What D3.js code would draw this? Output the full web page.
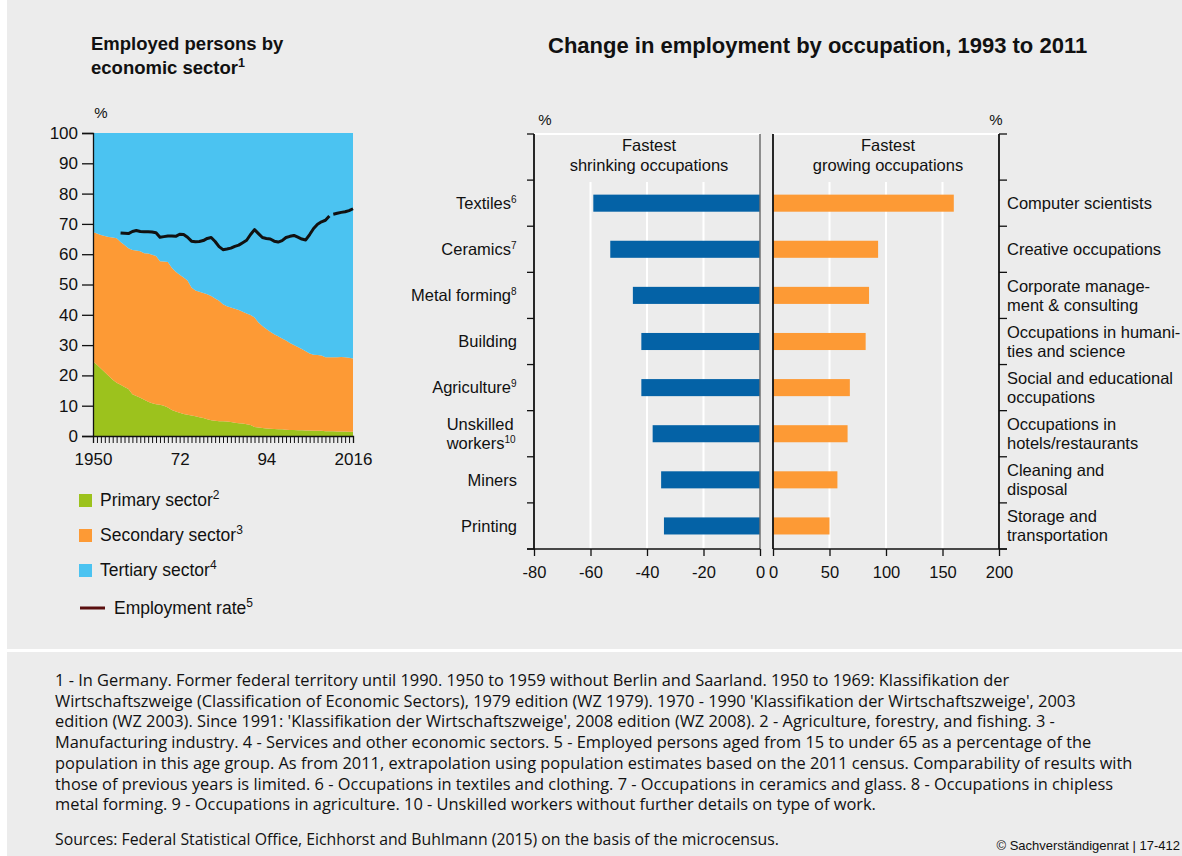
<!DOCTYPE html>
<html>
<head>
<meta charset="utf-8">
<script src="https://cdn.jsdelivr.net/npm/d3@7"></script>
<style>
body { margin: 0; background: #fff; }
svg { display: block; font-family: "Liberation Sans", Arial, sans-serif; }
</style>
</head>
<body>
<script>
// employed persons by sector, % share, 1950-2016
var years = d3.range(1950, 2017);
var primary = [24.6, 23.5, 22.3, 21.0, 19.8, 18.6, 17.6, 16.9, 16.2, 15.5,
	13.8, 13.2, 12.6, 12.0, 11.3, 10.8, 10.5, 10.3, 10.0, 9.4,
	8.6, 8.1, 7.7, 7.3, 7.0, 6.8, 6.5, 6.2, 5.9, 5.5,
	5.2, 5.0, 4.9, 4.9, 4.8, 4.6, 4.4, 4.2, 4.1, 3.9,
	3.6, 3.0, 2.8, 2.6, 2.5, 2.4, 2.3, 2.2, 2.2, 2.1,
	2.0, 2.0, 1.9, 1.9, 1.8, 1.8, 1.7, 1.7, 1.7, 1.6,
	1.6, 1.6, 1.5, 1.5, 1.5, 1.4, 1.4];
var secondary = [42.7, 43.3, 44.0, 45.0, 45.9, 46.9, 47.7, 47.1, 46.8, 46.5,
	47.6, 48.0, 48.4, 48.3, 48.9, 49.0, 48.9, 47.4, 47.6, 48.0,
	46.9, 46.1, 45.5, 45.0, 44.3, 42.2, 41.5, 41.4, 41.3, 41.3,
	41.0, 40.4, 39.7, 38.6, 38.0, 37.8, 37.6, 37.4, 36.9, 36.5,
	36.3, 36.1, 34.7, 33.7, 32.8, 32.0, 31.3, 30.7, 30.0, 29.4,
	28.7, 28.0, 27.5, 26.8, 26.2, 25.4, 25.1, 25.0, 24.9, 24.4,
	24.4, 24.4, 24.5, 24.6, 24.5, 24.4, 24.2];
var tertiary = [32.7, 33.2, 33.7, 34.0, 34.3, 34.5, 34.7, 36.0, 37.0, 38.0,
	38.6, 38.8, 39.0, 39.7, 39.8, 40.2, 40.6, 42.3, 42.4, 42.6,
	44.5, 45.8, 46.8, 47.7, 48.7, 51.0, 52.0, 52.4, 52.8, 53.2,
	53.8, 54.6, 55.4, 56.5, 57.2, 57.6, 58.0, 58.4, 59.0, 59.6,
	60.1, 60.9, 62.5, 63.7, 64.7, 65.6, 66.4, 67.1, 67.8, 68.5,
	69.3, 70.0, 70.6, 71.3, 72.0, 72.8, 73.2, 73.3, 73.4, 74.0,
	74.0, 74.0, 74.0, 73.9, 74.0, 74.2, 74.4];

// employment rate, 1957-2016; new extrapolation from 2011
var rateYears = d3.range(1957, 2017);
var rate = [67.0, 66.9, 66.8, 67.5, 67.8, 67.5, 67.4, 67.4, 67.3, 67.1,
	65.6, 65.8, 66.0, 66.0, 65.9, 66.6, 66.5, 65.6, 64.3, 64.1,
	64.2, 64.5, 65.2, 65.5, 64.2, 62.5, 61.5, 61.7, 62.0, 62.6,
	63.0, 63.8, 64.6, 66.5, 68.1, 66.8, 65.5, 65.2, 65.0, 64.3,
	64.0, 64.5, 65.5, 65.9, 66.2, 65.6, 65.0, 64.7, 66.5, 68.5,
	69.9, 70.7, 71.2, 72.6, 73.2, 73.5, 73.8, 74.0, 74.4, 75.0];
var rateBreak = 2011;
var yearTickLabels = { 1950: "1950", 1972: "72", 1994: "94", 2016: "2016" };

// change in employment 1993-2011, %
var shrinkLabels = [["Textiles"], ["Ceramics"], ["Metal forming"], ["Building"], ["Agriculture"], ["Unskilled", "workers"], ["Miners"], ["Printing"]];
var shrinkNotes = ["6", "7", "8", "", "9", "10", "", ""];
var shrinkValues = [-59, -53, -45, -42, -42, -38, -35, -34];
var growLabels = [["Computer scientists"], ["Creative occupations"], ["Corporate manage-", "ment & consulting"],
	["Occupations in humani-", "ties and science"], ["Social and educational", "occupations"],
	["Occupations in", "hotels/restaurants"], ["Cleaning and", "disposal"], ["Storage and", "transportation"]];
var growValues = [160, 93, 85, 82, 68, 66, 57, 50];
var shrinkTicks = [-80, -60, -40, -20, 0];
var growTicks = [0, 50, 100, 150, 200];

var footnotes = [
	"1 - In Germany. Former federal territory until 1990. 1950 to 1959 without Berlin and Saarland. 1950 to 1969: Klassifikation der",
	"Wirtschaftszweige (Classification of Economic Sectors), 1979 edition (WZ 1979). 1970 - 1990 'Klassifikation der Wirtschaftszweige', 2003",
	"edition (WZ 2003). Since 1991: 'Klassifikation der Wirtschaftszweige', 2008 edition (WZ 2008). 2 - Agriculture, forestry, and fishing. 3 -",
	"Manufacturing industry. 4 - Services and other economic sectors. 5 - Employed persons aged from 15 to under 65 as a percentage of the",
	"population in this age group. As from 2011, extrapolation using population estimates based on the 2011 census. Comparability of results with",
	"those of previous years is limited. 6 - Occupations in textiles and clothing. 7 - Occupations in ceramics and glass. 8 - Occupations in chipless",
	"metal forming. 9 - Occupations in agriculture. 10 - Unskilled workers without further details on type of work."
];

var colors = { primary: "#9cc21d", secondary: "#fd9a35", tertiary: "#4bc3f1", rate: "#111", legendRate: "#5a0f0f", shrink: "#0462a6", grow: "#fd9a35" };

var W = 1182, H = 856;
var svg = d3.select("body").append("svg").attr("width", W).attr("height", H);

// panels
svg.append("rect").attr("x", 7).attr("y", 0).attr("width", W - 7).attr("height", 649).attr("fill", "#ececec");
svg.append("rect").attr("x", 7).attr("y", 652).attr("width", W - 7).attr("height", H - 652).attr("fill", "#ececec");

function supText(sel, main, note, noteSize, dy) {
	sel.append("tspan").text(main);
	if (note) sel.append("tspan").attr("font-size", noteSize).attr("dy", dy).text(note);
}

// ---------- left chart ----------
var x = d3.scaleLinear().domain([1950, 2016]).range([93, 353]);
var y = d3.scaleLinear().domain([0, 100]).range([436, 133]);

var rows = years.map(function (yr, i) {
	return { year: yr, primary: primary[i], secondary: secondary[i], tertiary: tertiary[i] };
});
var stack = d3.stack().keys(["primary", "secondary", "tertiary"]);
var area = d3.area()
	.x(function (d) { return x(d.data.year); })
	.y0(function (d) { return y(d[0]); })
	.y1(function (d) { return y(Math.min(100, d[1])); });

svg.append("g").selectAll("path")
	.data(stack(rows))
	.enter().append("path")
	.attr("fill", function (d) { return colors[d.key]; })
	.attr("d", area);

var rateRows = rateYears.map(function (yr, i) { return { year: yr, v: rate[i] }; });
var rateLine = d3.line().x(function (d) { return x(d.year); }).y(function (d) { return y(d.v); });
[rateRows.filter(function (d) { return d.year < rateBreak; }),
 rateRows.filter(function (d) { return d.year >= rateBreak; })].forEach(function (seg) {
	svg.append("path").datum(seg)
		.attr("fill", "none").attr("stroke", colors.rate).attr("stroke-width", 3)
		.attr("stroke-linejoin", "round").attr("d", rateLine);
});

var yAxis = svg.append("g").attr("transform", "translate(93,0)")
	.call(d3.axisLeft(y).tickValues(d3.range(0, 101, 10)).tickSize(11).tickPadding(4));
yAxis.selectAll("text").attr("font-size", 17).attr("fill", "#111").attr("font-family", null);
yAxis.selectAll("line,path").attr("stroke", "#111").attr("stroke-width", 1.3);

var xAxis = svg.append("g").attr("transform", "translate(0,436)")
	.call(d3.axisBottom(x).tickValues(years).tickSize(7).tickPadding(10)
		.tickFormat(function (d) { return yearTickLabels[d] || ""; }));
xAxis.selectAll("text").attr("font-size", 17).attr("fill", "#111").attr("font-family", null);
xAxis.selectAll("line").attr("stroke", "#111").attr("stroke-width", 1);
xAxis.select("path").attr("stroke", "#111").attr("stroke-width", 1.3);

svg.append("text").attr("x", 101).attr("y", 118).attr("text-anchor", "middle")
	.attr("font-size", 15).attr("fill", "#111").text("%");

svg.append("text").attr("x", 91).attr("y", 50).attr("font-size", 18.5).attr("font-weight", "bold")
	.attr("fill", "#111").text("Employed persons by");
supText(svg.append("text").attr("x", 91).attr("y", 74).attr("font-size", 18.5).attr("font-weight", "bold").attr("fill", "#111"),
	"economic sector", "1", 12.5, -7);

// legend
var legendItems = [
	{ name: "Primary sector", note: "2", color: colors.primary, type: "box" },
	{ name: "Secondary sector", note: "3", color: colors.secondary, type: "box" },
	{ name: "Tertiary sector", note: "4", color: colors.tertiary, type: "box" },
	{ name: "Employment rate", note: "5", color: colors.legendRate, type: "line" }
];
var leg = svg.append("g").selectAll("g").data(legendItems).enter().append("g")
	.attr("transform", function (d, i) { return "translate(79," + (494 + i * 35) + ")"; });
leg.filter(function (d) { return d.type === "box"; }).append("rect")
	.attr("width", 13).attr("height", 13).attr("fill", function (d) { return d.color; });
leg.filter(function (d) { return d.type === "line"; }).append("line")
	.attr("x1", 1).attr("x2", 26).attr("y1", 9).attr("y2", 9)
	.attr("stroke", function (d) { return d.color; }).attr("stroke-width", 3);
leg.each(function (d) {
	var t = d3.select(this).append("text").attr("x", d.type === "line" ? 35 : 21).attr("y", d.type === "line" ? 15 : 12)
		.attr("font-size", 17.5).attr("fill", "#111");
	supText(t, d.name, d.note, 12, -7);
});

// ---------- right chart ----------
svg.append("text").attr("x", 548).attr("y", 53).attr("font-size", 22).attr("font-weight", "bold")
	.attr("fill", "#111").text("Change in employment by occupation, 1993 to 2011");

var cats = shrinkLabels.map(function (d, i) { return "c" + i; });
var yTop = 134, yBottom = 549;
var ySlot = d3.scaleBand().domain(["head"].concat(cats)).range([yTop, yBottom]);
var yBar = d3.scaleBand().domain(cats).range([yTop + ySlot.step(), yBottom]).paddingInner(0.63).paddingOuter(0.315);
var xs = d3.scaleLinear().domain([-80, 0]).range([534, 760]);
var xg = d3.scaleLinear().domain([0, 200]).range([773, 999]);
var gridTop = ySlot(cats[0]) + 2;

// top white border + grid lines
[[xs(-80), xs(0)], [xg(0), xg(200)]].forEach(function (r) {
	svg.append("line").attr("x1", r[0]).attr("x2", r[1]).attr("y1", yTop).attr("y2", yTop)
		.attr("stroke", "#fff").attr("stroke-width", 2);
});
svg.append("g").selectAll("line").data([-60, -40, -20]).enter().append("line")
	.attr("x1", xs).attr("x2", xs).attr("y1", gridTop).attr("y2", yBottom)
	.attr("stroke", "#fff").attr("stroke-width", 2);
svg.append("g").selectAll("line").data([50, 100, 150]).enter().append("line")
	.attr("x1", xg).attr("x2", xg).attr("y1", gridTop).attr("y2", yBottom)
	.attr("stroke", "#fff").attr("stroke-width", 2);

// bars
svg.append("g").selectAll("rect").data(shrinkValues).enter().append("rect")
	.attr("x", function (d) { return xs(d); })
	.attr("width", function (d) { return xs(0) - xs(d); })
	.attr("y", function (d, i) { return yBar(cats[i]); })
	.attr("height", yBar.bandwidth())
	.attr("fill", colors.shrink);
svg.append("g").selectAll("rect").data(growValues).enter().append("rect")
	.attr("x", xg(0))
	.attr("width", function (d) { return xg(d) - xg(0); })
	.attr("y", function (d, i) { return yBar(cats[i]); })
	.attr("height", yBar.bandwidth())
	.attr("fill", colors.grow);

// zero line of shrinking panel
svg.append("line").attr("x1", xs(0)).attr("x2", xs(0)).attr("y1", yTop).attr("y2", yBottom)
	.attr("stroke", "#6e6e6e").attr("stroke-width", 1.5);

// bottom axes
function styleAxis(g) {
	g.selectAll("text").attr("font-size", 16.5).attr("fill", "#111").attr("font-family", null);
	g.selectAll("line,path").attr("stroke", "#111").attr("stroke-width", 1.3);
}
var sx = svg.append("g").attr("transform", "translate(0," + yBottom + ")")
	.call(d3.axisBottom(xs).tickValues(shrinkTicks).tickSize(7).tickSizeOuter(0).tickPadding(10)
		.tickFormat(function (d) { return String(d); }));
styleAxis(sx);
sx.select("path").attr("d", "M527,0H" + xs(0));
var gx = svg.append("g").attr("transform", "translate(0," + yBottom + ")")
	.call(d3.axisBottom(xg).tickValues(growTicks).tickSize(7).tickSizeOuter(0).tickPadding(10)
		.tickFormat(function (d) { return String(d); }));
styleAxis(gx);
gx.select("path").attr("d", "M" + xg(0) + ",0H1007");

// vertical axes with slot ticks
var slotEdges = ySlot.domain().map(function (d) { return ySlot(d); }).concat([yBottom]);
var axisGroup = svg.append("g").attr("stroke", "#111");
[xs(-80), xg(0), xg(200)].forEach(function (ax) {
	axisGroup.append("line").attr("x1", ax).attr("x2", ax).attr("y1", yTop).attr("y2", yBottom)
		.attr("stroke-width", 1.8);
});
axisGroup.selectAll(".tl").data(slotEdges).enter().append("line")
	.attr("x1", 527).attr("x2", xs(-80)).attr("y1", function (d) { return d; }).attr("y2", function (d) { return d; })
	.attr("stroke-width", 1.3);
axisGroup.selectAll(".tr").data(slotEdges).enter().append("line")
	.attr("x1", xg(200)).attr("x2", 1007).attr("y1", function (d) { return d; }).attr("y2", function (d) { return d; })
	.attr("stroke-width", 1.3);

// % labels
svg.append("text").attr("x", 545).attr("y", 125).attr("text-anchor", "middle").attr("font-size", 15).attr("fill", "#111").text("%");
svg.append("text").attr("x", 996).attr("y", 125).attr("text-anchor", "middle").attr("font-size", 15).attr("fill", "#111").text("%");

// panel headers
[[649, "shrinking occupations"], [888, "growing occupations"]].forEach(function (h) {
	var t = svg.append("text").attr("text-anchor", "middle").attr("font-size", 16.5).attr("fill", "#111");
	t.append("tspan").attr("x", h[0]).attr("y", 151).text("Fastest");
	t.append("tspan").attr("x", h[0]).attr("y", 170.5).text(h[1]);
});

// category labels
var fs = 16.5, lh = 19;
shrinkLabels.forEach(function (lines, i) {
	var cy = ySlot(cats[i]) + ySlot.bandwidth() / 2;
	var g = svg.append("g");
	var t = g.append("text").attr("font-size", fs).attr("fill", "#111");
	lines.forEach(function (ln, j) {
		var b = cy - (lines.length - 1) * lh / 2 + 5.8 + j * lh;
		t.append("tspan").attr("x", 0).attr("y", b).text(ln);
		if (j === lines.length - 1 && shrinkNotes[i]) {
			t.append("tspan").attr("font-size", 10).attr("dy", -6).text(shrinkNotes[i]);
		}
	});
	var w = g.node().getBBox().width;
	g.attr("transform", "translate(" + (517 - w) + ",0)");
});
growLabels.forEach(function (lines, i) {
	var cy = ySlot(cats[i]) + ySlot.bandwidth() / 2;
	var t = svg.append("text").attr("font-size", fs).attr("fill", "#111");
	lines.forEach(function (ln, j) {
		t.append("tspan").attr("x", 1007).attr("y", cy - (lines.length - 1) * lh / 2 + 5.8 + j * lh).text(ln);
	});
});

// ---------- footer ----------
var ft = svg.append("text").attr("font-family", "'Open Sans', sans-serif").attr("font-size", 16.4).attr("fill", "#111");
footnotes.forEach(function (ln, i) {
	ft.append("tspan").attr("x", 55).attr("y", 686 + i * 20.7).text(ln);
});
svg.append("text").attr("x", 55).attr("y", 845).attr("font-family", "'Open Sans', sans-serif").attr("font-size", 15.8).attr("fill", "#111")
	.text("Sources: Federal Statistical Office, Eichhorst and Buhlmann (2015) on the basis of the microcensus.");
svg.append("text").attr("x", 1180).attr("y", 850).attr("text-anchor", "end").attr("font-size", 13).attr("fill", "#111")
	.text("\u00a9 Sachverst\u00e4ndigenrat | 17-412");
</script>
</body>
</html>
